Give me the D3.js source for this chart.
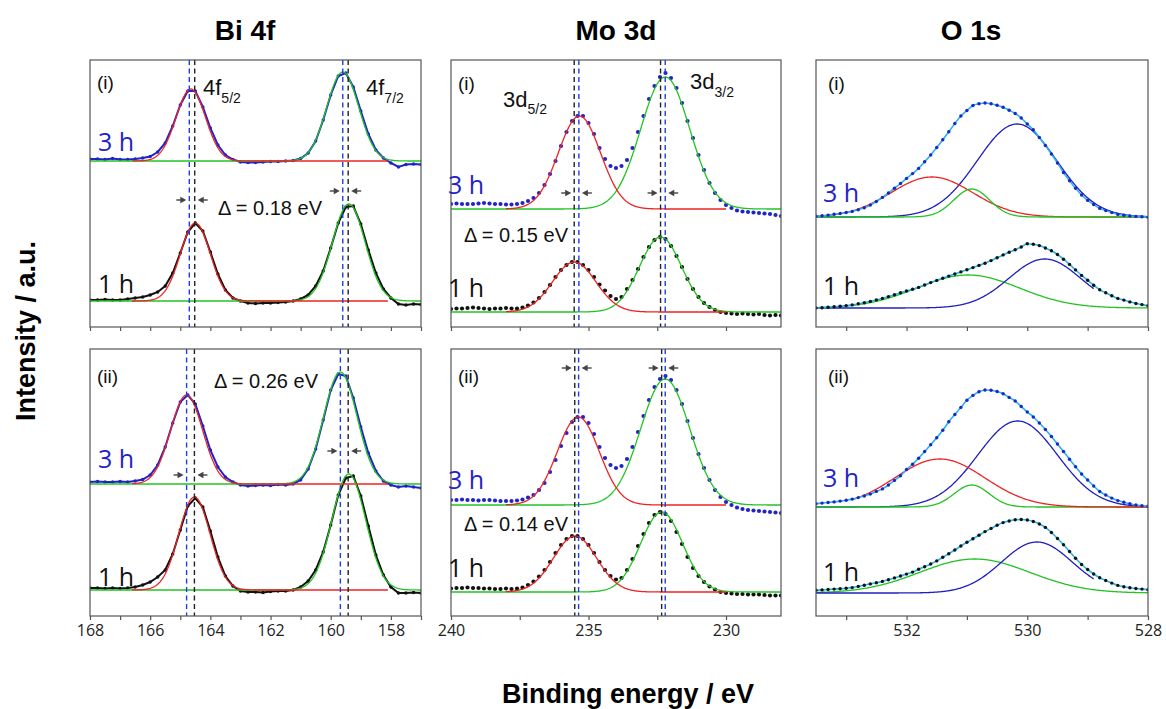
<!DOCTYPE html>
<html>
<head>
<meta charset="utf-8">
<script src="https://cdn.jsdelivr.net/npm/d3@7/dist/d3.min.js"></script>
<style>
  body { margin: 0; background: #fff; }
  svg { display: block; }
</style>
</head>
<body>
<div id="chart"></div>
<script>
// ---------- data (intensities in a.u.) ----------

// energy grids of the measured spectra
var biEnergy = d3.range(45).map(function(i){ return 168 - i * 0.25; });
var moEnergy = d3.range(61).map(function(i){ return 240 - i * 0.2; });
var oEnergy  = d3.range(56).map(function(i){ return 533.5 - i * 0.1; });

// Bi 4f, net counts above each baseline
var bi_i_3h  = [2, 2, 1.5, 2.5, 1.5, 1.5, 2, 3, 4.5, 9, 18, 35, 56, 70, 70, 54, 33, 16, 6, 1.5, -1, -1.5, -1.5, -1, -0.5, -0.5, 0, 0.5, 2.5, 8, 20, 41, 66, 85, 88, 74, 50, 27, 11, 3, -2, -6, -3.5, -3, -3.5];
var bi_i_1h  = [1, 1, 1.5, 1, 1, 2, 3, 4, 6, 9, 15, 28, 48, 69, 78, 70, 49, 27, 11, 3, 0, -2, -2.5, -2, -2, -1.5, -1, 0, 2, 6, 15, 30, 53, 78, 94, 95, 77, 51, 28, 12, 3, -3, -4, -3, -3.5];
var bi_ii_3h = [2, 2.5, 2, 2, 2.5, 2, 3, 4.5, 9, 19, 37, 61, 82, 89, 80, 58, 34, 17, 7, 2, -1, -2, -1.5, -1, -1.5, -0.5, -1, 0, 4, 15, 35, 64, 94, 110, 108, 86, 57, 31, 13, 3, -1, -3, -2, -3, -4];
var bi_ii_1h = [2, 2, 1.5, 2, 1.5, 2, 3, 5, 8, 13, 20, 36, 60, 84, 92, 83, 59, 33, 14, 4, -1, -2, -2, -2.5, -1.5, -1, -1, 0, 3, 9, 20, 38, 65, 95, 112, 114, 94, 64, 35, 15, 3, -3, -3, -2.5, -3];

// Mo 3d
var mo_i_3h  = [5, 5.5, 5, 5, 5, 5.5, 6, 5.5, 5, 5, 4.5, 4.5, 5, 6, 8, 11, 16, 24, 35, 48, 63, 77, 88, 93, 93, 86, 75, 61, 50, 43, 41, 43, 49, 61, 77, 93, 110, 123, 132, 136, 131, 121, 106, 88, 71, 54, 39, 26, 16, 9, 4, 1, -1.5, -2.5, -3, -3.5, -4, -4.5, -5, -6, -7];
var mo_i_1h  = [3, 3.5, 3.5, 4, 4.5, 4, 3.5, 3, 3.5, 3.5, 4, 3.5, 3.5, 4.5, 6.5, 9.5, 14, 20, 27, 35, 42, 47, 50, 50, 47, 42, 35, 27.5, 21.5, 16, 13, 15, 23, 32, 43, 55, 65, 72, 75, 73, 66, 56, 45, 33, 23, 15, 9, 5, 2, 0, -1, -1.5, -2, -1.5, -2, -2.5, -2, -3, -3.5, -3, -3.5];
var mo_ii_3h = [5, 5, 5.5, 5, 5, 4.5, 5, 5, 4.5, 4, 4, 4, 4.5, 5.5, 7.5, 10, 15, 22, 33, 45, 59, 72, 83, 88, 88, 82, 71, 58, 47, 40, 37, 39, 46, 58, 73, 89, 105, 118, 126, 129, 125, 115, 101, 84, 67, 51, 37, 25, 15, 8, 3, 0, -2.5, -4, -5, -5.5, -6, -6.5, -7, -7.5, -8];
var mo_ii_1h = [3.5, 4, 4, 4.5, 4, 4, 3.5, 3.5, 3, 3, 3.5, 3, 3.5, 4.5, 7, 10.5, 15.5, 22, 30, 39, 47, 53, 56, 56, 53, 47, 39, 30, 22, 16, 12.5, 14, 22, 33, 46, 58, 69, 77, 80, 78, 71, 60, 48, 35, 24, 16, 10, 5.5, 2.5, 0, -1, -1.5, -2, -2, -2.5, -2.5, -2.5, -3, -3.5, -3.5, -3.5];

// O 1s
var o_i_3h  = [0.8, 1.2, 1.9, 2.7, 3.5, 4.5, 5.6, 7.3, 9.2, 11.9, 15.5, 19.6, 24, 28.8, 33.5, 38.6, 43.4, 48.6, 55.3, 62, 69.5, 77.3, 85.2, 93.5, 101, 106.5, 111.5, 113.2, 114, 113.3, 111.7, 109.8, 106.8, 103.5, 99, 93, 87.3, 79.5, 71.5, 63, 54, 44.5, 36.2, 28.8, 22, 16.6, 12.5, 8.6, 6.4, 4.4, 2.6, 1.8, 1.1, 0.6, 0.2, -0.3];
var o_i_1h  = [0, 0.3, 0.8, 1.3, 1.8, 2.4, 3.1, 4.2, 5.3, 6.6, 8.1, 9.6, 11.4, 13.2, 15.2, 17, 18.7, 20.6, 23, 25.4, 27.6, 29.8, 31.9, 34, 36.1, 38.3, 40.4, 42.6, 44.7, 47.4, 50.3, 53.1, 55.7, 58.2, 61, 64.2, 63.8, 62.4, 60, 57.2, 53.5, 48.8, 43.6, 38.1, 32.6, 27.7, 22.8, 18.2, 15.2, 12.2, 9.6, 7.9, 6.1, 4.5, 3.4, 2.3];
var o_ii_3h = [3.3, 3.9, 4.5, 5.1, 5.9, 6.8, 7.9, 9.4, 11, 12.9, 15.6, 18.1, 22, 26.6, 31.2, 37.5, 42.7, 48.7, 55.5, 62.3, 69.2, 76.8, 85.2, 92.5, 99.6, 106.7, 111.6, 115.2, 117, 116.8, 115.5, 113.2, 109.6, 106, 100.5, 95, 90, 84, 77.5, 70.5, 63, 55.5, 47.8, 40.3, 33, 27, 21, 15.5, 12, 8.9, 6.4, 4.8, 3.3, 2, 1.3, 0.7];
var o_ii_1h = [2.7, 3.1, 3.5, 3.9, 4.3, 4.7, 5.4, 6.6, 7.8, 9.1, 10.3, 11.6, 13.3, 15.1, 17, 18.9, 20.9, 23.7, 26.3, 29, 32.1, 35.7, 39.3, 43, 47, 50.7, 54.2, 57.8, 61.4, 64.6, 67.7, 70.4, 72, 73.3, 73.5, 73, 71.5, 69, 65.6, 60.5, 54.5, 48.3, 41.5, 34.7, 28.5, 23.5, 19, 15.3, 12.5, 9.9, 7.6, 6.3, 5.3, 4.5, 3.9, 3.3];

// vertical stacking offsets, panels in order Bi(i) Bi(ii) Mo(i) Mo(ii) O(i) O(ii)
var offsets3h = [166, 132, 118, 111, 110, 109];
var offsets1h = [26, 26, 15, 24, 19, 23];

// fit components: [component, centre eV, height, FWHM eV, (window from, to)]
var bi_i_3h_fit  = [["4f7/2", 159.60, 89, 1.25], ["4f5/2", 164.65, 72, 1.15, 166.6, 158.1]];
var bi_i_1h_fit  = [["4f7/2", 159.40, 97, 1.28], ["4f5/2", 164.50, 78, 1.17, 166.6, 158.1]];
var bi_ii_3h_fit = [["4f7/2", 159.68, 112, 1.30], ["4f5/2", 164.79, 89, 1.25, 166.6, 158.1]];
var bi_ii_1h_fit = [["4f7/2", 159.40, 116, 1.32], ["4f5/2", 164.53, 93, 1.22, 166.6, 158.1]];

var mo_i_3h_fit  = [["3d3/2", 232.21, 132, 2.10], ["3d5/2", 235.33, 93, 1.80, 238, 230]];
var mo_i_1h_fit  = [["3d3/2", 232.38, 75, 1.80], ["3d5/2", 235.52, 50, 1.85, 238, 230]];
var mo_ii_3h_fit = [["3d3/2", 232.21, 126, 2.10], ["3d5/2", 235.37, 88, 1.80, 238, 230]];
var mo_ii_1h_fit = [["3d3/2", 232.34, 80, 1.80], ["3d5/2", 235.49, 56, 1.85, 238, 230]];

var o_i_3h_fit  = [["lattice", 530.17, 93, 1.55], ["hydroxyl", 531.58, 40, 1.60], ["defect", 530.92, 28, 0.70]];
var o_i_1h_fit  = [["defect", 530.98, 33, 2.00], ["lattice", 529.71, 49, 1.40, 533.5, 528.9]];
var o_ii_3h_fit = [["lattice", 530.16, 86, 1.55], ["defect", 530.92, 22, 0.68], ["hydroxyl", 531.45, 48, 1.76, 532.9, 528]];
var o_ii_1h_fit = [["defect", 530.87, 34, 2.15], ["lattice", 529.84, 51, 1.38, 533.5, 528.9]];

// peak positions marked by the dashed lines
var biPeaks3h = [[164.70, 159.60], [164.79, 159.68]];
var biPeaks1h = [[164.52, 159.42], [164.53, 159.42]];
var moPeaks3h = [[235.35, 232.21], [235.36, 232.21]];
var moPeaks1h = [[235.52, 232.38], [235.50, 232.34]];
var shifts = ["0.18", "0.26", "0.15", "0.14"];

// axes
var biTicks = d3.range(168, 156.5, -1);
var biTickLabels = [168, 166, 164, 162, 160, 158];
var moTicks = [240, 237.5, 235, 232.5, 230];
var moTickLabels = [240, 235, 230];
var oTicks = [533, 532, 531, 530, 529, 528];
var oTickLabels = [532, 530, 528];

// ---------- drawing ----------
var svgWidth = 1166, svgHeight = 709;
var svg = d3.select("#chart").append("svg")
    .attr("width", svgWidth)
    .attr("height", svgHeight)
    .style("font-family", "'Liberation Sans', Arial, sans-serif");

var colours = {
  "4f5/2": "#ee2424", "4f7/2": "#22c322",
  "3d5/2": "#ee2424", "3d3/2": "#22c322",
  "lattice": "#1f1fc0", "hydroxyl": "#ee2424", "defect": "#22c322"
};
var blueData = "#1f23c8", blackData = "#111";
var labelFont = "'Open Sans', sans-serif";

var columns = [
  {title: "Bi 4f", titleX: 245, left: 90,  right: 421,  domain: [168, 157],   ticks: biTicks, labels: biTickLabels, energy: biEnergy},
  {title: "Mo 3d", titleX: 616, left: 451, right: 781,  domain: [240, 228],   ticks: moTicks, labels: moTickLabels, energy: moEnergy},
  {title: "O 1s",  titleX: 971, left: 816, right: 1148, domain: [533.5, 528], ticks: oTicks,  labels: oTickLabels,  energy: oEnergy}
];
var rows = [{top: 60, bottom: 327}, {top: 349, bottom: 616}];
var yRange = [0, 267];

var panels = [
  {col: 0, row: 0, tag: "(i)",  d3h: bi_i_3h,  d1h: bi_i_1h,  f3h: bi_i_3h_fit,  f1h: bi_i_1h_fit,
   p3h: biPeaks3h[0], p1h: biPeaks1h[0], arrowLevels: [127, 136], shift: shifts[0],
   tagAt: [7, 29], at3h: [8, 91], at1h: [8, 233], deltaAt: [128, 155],
   names: [{main: "4f", sub: "5/2", at: [113, 35], dy: 8}, {main: "4f", sub: "7/2", at: [276, 35], dy: 8}]},
  {col: 0, row: 1, tag: "(ii)", d3h: bi_ii_3h, d1h: bi_ii_1h, f3h: bi_ii_3h_fit, f1h: bi_ii_1h_fit,
   p3h: biPeaks3h[1], p1h: biPeaks1h[1], arrowLevels: [141, 165], shift: shifts[1],
   tagAt: [7, 34], at3h: [8, 119], at1h: [8, 237], deltaAt: [124, 39], names: []},
  {col: 1, row: 0, tag: "(i)",  d3h: mo_i_3h,  d1h: mo_i_1h,  f3h: mo_i_3h_fit,  f1h: mo_i_1h_fit,
   p3h: moPeaks3h[0], p1h: moPeaks1h[0], arrowLevels: [134, 134], shift: shifts[2],
   tagAt: [7, 30], at3h: [-3, 134], at1h: [-3, 237], deltaAt: [13, 182],
   names: [{main: "3d", sub: "5/2", at: [52, 47], dy: 7}, {main: "3d", sub: "3/2", at: [239, 29], dy: 8}]},
  {col: 1, row: 1, tag: "(ii)", d3h: mo_ii_3h, d1h: mo_ii_1h, f3h: mo_ii_3h_fit, f1h: mo_ii_1h_fit,
   p3h: moPeaks3h[1], p1h: moPeaks1h[1], arrowLevels: [248, 248], shift: shifts[3],
   tagAt: [7, 34], at3h: [-3, 140], at1h: [-3, 228], deltaAt: [13, 182], names: []},
  {col: 2, row: 0, tag: "(i)",  d3h: o_i_3h,  d1h: o_i_1h,  f3h: o_i_3h_fit,  f1h: o_i_1h_fit,
   tagAt: [12, 30], at3h: [7, 142], at1h: [7, 235], names: [], envelope: true},
  {col: 2, row: 1, tag: "(ii)", d3h: o_ii_3h, d1h: o_ii_1h, f3h: o_ii_3h_fit, f1h: o_ii_1h_fit,
   tagAt: [12, 34], at3h: [7, 138], at1h: [7, 232], names: [], envelope: true}
];

function gauss(c, h, w) {
  var k = 4 * Math.LN2 / (w * w);
  return function(e) { return h * Math.exp(-k * (e - c) * (e - c)); };
}

function arrow(g, xFrom, xTo, y) {
  var dir = xTo > xFrom ? 1 : -1;
  g.append("line")
    .attr("x1", xFrom).attr("x2", xTo - dir * 4)
    .attr("y1", y).attr("y2", y)
    .attr("stroke", "#444").attr("stroke-width", 1.4);
  g.append("path")
    .attr("d", "M" + xTo + "," + y + "L" + (xTo - dir * 6) + "," + (y - 3.2) + "L" + (xTo - dir * 6) + "," + (y + 3.2) + "Z")
    .attr("fill", "#444");
}

panels.forEach(function(p, pi) {
  var col = columns[p.col], row = rows[p.row];
  var x = d3.scaleLinear().domain(col.domain).range([col.left, col.right]);
  var y = d3.scaleLinear().domain(yRange).range([row.bottom, row.top]);
  var g = svg.append("g");

  var clipId = "clip" + pi;
  svg.append("clipPath").attr("id", clipId).append("rect")
    .attr("x", col.left).attr("y", row.top)
    .attr("width", col.right - col.left).attr("height", row.bottom - row.top);
  var plot = g.append("g").attr("clip-path", "url(#" + clipId + ")");

  var spectra = [
    {values: p.d3h, offset: offsets3h[pi], fit: p.f3h, colour: blueData},
    {values: p.d1h, offset: offsets1h[pi], fit: p.f1h, colour: blackData}
  ];

  var line = d3.line().x(function(d){ return x(d[0]); }).y(function(d){ return y(d[1]); });
  var smooth = d3.line().curve(d3.curveMonotoneX).x(function(d){ return x(d[0]); }).y(function(d){ return y(d[1]); });

  function drawFits(s) {
    s.fit.forEach(function(f) {
      var fn = gauss(f[1], f[2], f[3]);
      var lo = f.length > 4 ? f[4] : col.domain[0];
      var hi = f.length > 4 ? f[5] : col.domain[1];
      var pts = d3.range(401).map(function(i) {
        var e = lo + (hi - lo) * i / 400;
        return [e, s.offset + fn(e)];
      });
      plot.append("path")
        .attr("d", line(pts))
        .attr("fill", "none")
        .attr("stroke", colours[f[0]])
        .attr("stroke-width", 1.3);
    });
  }

  function drawData(s) {
    var pts = s.values.map(function(v, i){ return [col.energy[i], s.offset + v]; });
    if (p.col === 0) {
      plot.append("path").attr("d", line(pts))
        .attr("fill", "none").attr("stroke", s.colour).attr("stroke-width", 2);
    }
    if (p.envelope) {
      plot.append("path").attr("d", smooth(pts))
        .attr("fill", "none").attr("stroke", "#25b5e8").attr("stroke-width", 1.6);
    }
    plot.selectAll(null).data(pts).enter().append("circle")
      .attr("cx", function(d){ return x(d[0]); })
      .attr("cy", function(d){ return y(d[1]); })
      .attr("r", p.col === 1 ? 2.1 : 1.7)
      .attr("fill", s.colour);
  }

  if (p.envelope) {
    spectra.forEach(drawFits);
    spectra.forEach(drawData);
  } else {
    spectra.forEach(drawData);
    spectra.forEach(drawFits);
  }

  // dashed peak markers and shift arrows
  if (p.p3h) {
    [0, 1].forEach(function(k) {
      [[p.p3h[k], "#1f3fd9"], [p.p1h[k], "#222"]].forEach(function(m) {
        g.append("line")
          .attr("x1", x(m[0])).attr("x2", x(m[0]))
          .attr("y1", row.top).attr("y2", row.bottom)
          .attr("stroke", m[1]).attr("stroke-width", 1.4)
          .attr("stroke-dasharray", "5,3.5");
      });
      var xa = Math.min(x(p.p3h[k]), x(p.p1h[k]));
      var xb = Math.max(x(p.p3h[k]), x(p.p1h[k]));
      var ya = y(p.arrowLevels[k]);
      arrow(g, xa - 13, xa - 3, ya);
      arrow(g, xb + 13, xb + 3, ya);
    });
    g.append("text")
      .attr("x", col.left + p.deltaAt[0]).attr("y", row.top + p.deltaAt[1])
      .style("font-size", "20px").attr("fill", "#111")
      .text("\u0394 = " + p.shift + " eV");
  }

  // frame
  g.append("rect")
    .attr("x", col.left).attr("y", row.top)
    .attr("width", col.right - col.left).attr("height", row.bottom - row.top)
    .attr("fill", "none").attr("stroke", "#555").attr("stroke-width", 1.2);

  // x axis
  var axis = d3.axisBottom(x).tickValues(col.ticks).tickSize(4).tickSizeOuter(0).tickPadding(5)
    .tickFormat(function(d){ return (p.row === 1 && col.labels.indexOf(d) >= 0) ? d : ""; });
  var ax = g.append("g").attr("transform", "translate(0," + row.bottom + ")").call(axis);
  ax.select(".domain").remove();
  ax.selectAll(".tick line").attr("stroke", "#555").attr("stroke-width", 1.2);
  ax.selectAll(".tick text")
    .style("font-family", labelFont).style("font-size", "16px").attr("fill", "#222");

  // labels
  g.append("text").attr("x", col.left + p.tagAt[0]).attr("y", row.top + p.tagAt[1])
    .style("font-size", "19px").attr("fill", "#111").text(p.tag);
  g.append("text").attr("x", col.left + p.at3h[0]).attr("y", row.top + p.at3h[1])
    .style("font-family", labelFont).style("font-size", "25px").attr("fill", blueData).text("3 h");
  g.append("text").attr("x", col.left + p.at1h[0]).attr("y", row.top + p.at1h[1])
    .style("font-family", labelFont).style("font-size", "25px").attr("fill", "#111").text("1 h");
  p.names.forEach(function(n) {
    var t = g.append("text").attr("x", col.left + n.at[0]).attr("y", row.top + n.at[1])
      .style("font-size", "22px").attr("fill", "#111").text(n.main);
    t.append("tspan").attr("dy", n.dy).style("font-size", "14px").text(n.sub);
  });
});

// column titles and axis titles
columns.forEach(function(c) {
  svg.append("text").attr("x", c.titleX).attr("y", 40)
    .attr("text-anchor", "middle").style("font-size", "28px").style("font-weight", "bold")
    .text(c.title);
});
svg.append("text")
  .attr("transform", "translate(35,331) rotate(-90)")
  .attr("text-anchor", "middle").style("font-size", "27px").style("font-weight", "bold")
  .text("Intensity / a.u.");
svg.append("text")
  .attr("x", 628).attr("y", 703)
  .attr("text-anchor", "middle").style("font-size", "27px").style("font-weight", "bold")
  .text("Binding energy / eV");
</script>
</body>
</html>
